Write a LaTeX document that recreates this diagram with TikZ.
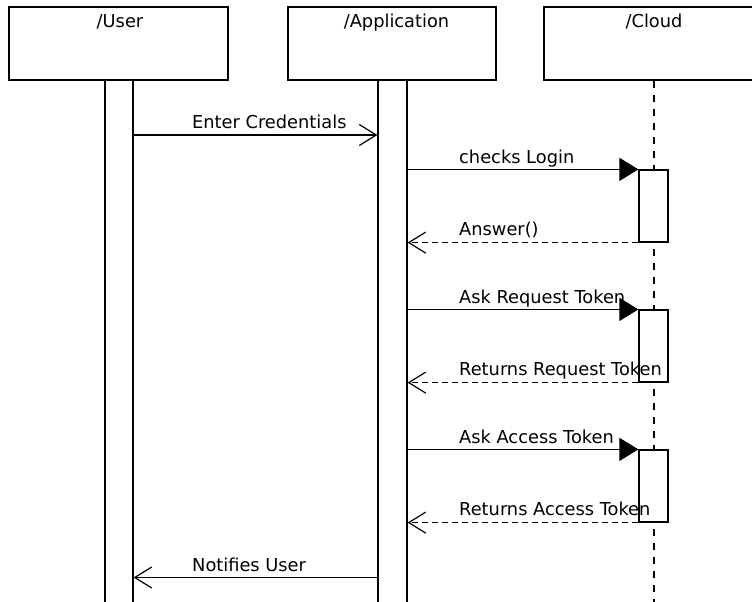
\documentclass[tikz,border=0pt]{standalone}
\usepackage{fontspec}
\setmainfont{DejaVu Sans}
\usetikzlibrary{arrows.meta}

\tikzset{
  every node/.style={font=\fontsize{17.8}{20}\selectfont},
  headbox/.style={draw, line width=1.8pt, fill=white, rectangle, inner sep=0pt,
                  minimum height=73pt},
  actbar/.style={draw, line width=1.2pt, fill=white, rectangle, inner sep=0pt},
  lifeline/.style={line width=1.5pt, dash pattern=on 7pt off 7pt},
  callmsg/.style={line width=1.2pt, -{Triangle[length=19pt,width=23pt]}},
  sendmsg/.style={line width=1.2pt, -{Straight Barb[length=17pt,width=21pt]}},
  replymsg/.style={line width=1.2pt, dash pattern=on 6pt off 4pt,
                   -{Straight Barb[length=17pt,width=21pt]}},
  msglabel/.style={anchor=base west, inner sep=0pt},
  headlabel/.style={anchor=base, inner sep=0pt}
}

\begin{document}
\begin{tikzpicture}[x=1pt, y=-1pt]
  \useasboundingbox (0,0) rectangle (752,602);
  \clip (0,0) rectangle (752,602);
  \fill[white] (0,0) rectangle (752,602);

  % object heads
  \node[headbox, minimum width=219pt] (user)  at (118.5,43.5) {};
  \node[headbox, minimum width=208pt] (app)   at (392,43.5)   {};
  \node[headbox, minimum width=220pt] (cloud) at (654,43.5)   {};
  \node[headlabel] (userlbl)  at (120,28)   {/User};
  \node[headlabel] (applbl)   at (396.5,28) {/Application};
  \node[headlabel] (cloudlbl) at (654,28)   {/Cloud};

  % lifelines
  \node[actbar, minimum width=28pt, minimum height=532pt] (userbar) at (119,346) {};
  \node[actbar, minimum width=29pt, minimum height=532pt] (appbar)  at (392.5,346) {};
  \coordinate (cloudend) at (654,612);
  \draw[lifeline] (cloud.south) -- (cloudend);

  % activations on the cloud lifeline
  \node[actbar, minimum width=29pt, minimum height=72pt] (act1) at (653.5,206) {};
  \node[actbar, minimum width=29pt, minimum height=72pt] (act2) at (653.5,346) {};
  \node[actbar, minimum width=29pt, minimum height=72pt] (act3) at (653.5,486) {};

  % message rows
  \coordinate (row1) at (0,135);
  \coordinate (row9) at (0,577.5);

  % labels
  \node[msglabel] (l1) at (192,128.5) {Enter Credentials};
  \node[msglabel] (l2) at (459,163)   {checks Login};
  \node[msglabel] (l3) at (459,235.5) {Answer()};
  \node[msglabel] (l4) at (459,303)   {Ask Request Token};
  \node[msglabel] (l5) at (459,375.5) {Returns Request Token};
  \node[msglabel] (l6) at (459,443)   {Ask Access Token};
  \node[msglabel] (l7) at (459,515.5) {Returns Access Token};
  \node[msglabel] (l8) at (192,571)   {Notifies User};

  % messages
  \draw[sendmsg]  (userbar.east |- row1) -- (appbar.west |- row1);
  \draw[callmsg]  (appbar.east |- act1.north) -- (act1.north west);
  \draw[replymsg] (act1.south west) -- (appbar.east |- act1.south);
  \draw[callmsg]  (appbar.east |- act2.north) -- (act2.north west);
  \draw[replymsg] (act2.south west) -- (appbar.east |- act2.south);
  \draw[callmsg]  (appbar.east |- act3.north) -- (act3.north west);
  \draw[replymsg] (act3.south west) -- (appbar.east |- act3.south);
  \draw[sendmsg]  (appbar.west |- row9) -- (userbar.east |- row9);
\end{tikzpicture}
\end{document}
